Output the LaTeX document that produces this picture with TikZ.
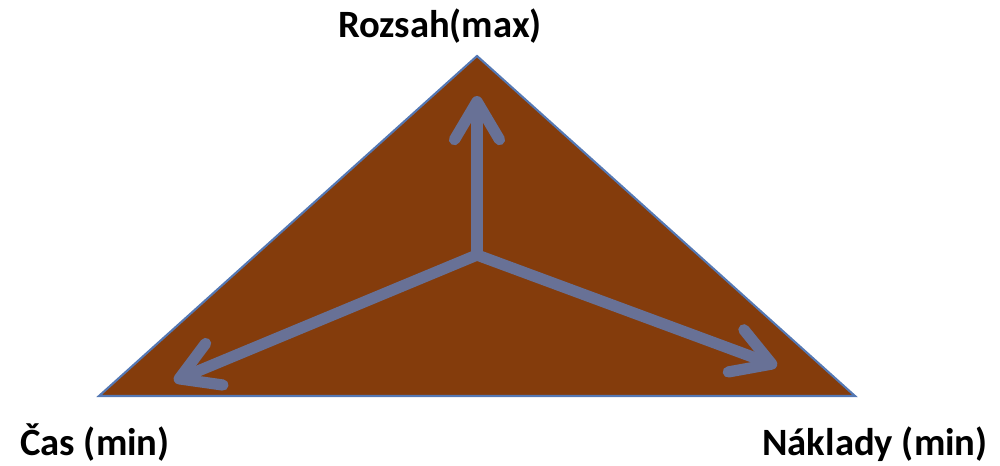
\documentclass[tikz,border=0pt]{standalone}
\usepackage{fontspec}
\setmainfont{Carlito}
\usetikzlibrary{arrows.meta}
\definecolor{triBrown}{RGB}{132,60,12}
\definecolor{triEdge}{RGB}{84,120,180}
\definecolor{arrowGray}{RGB}{104,113,150}
\begin{document}
\begin{tikzpicture}[x=0.02cm, y=-0.02cm,
    goal/.style={anchor=base, font=\fontsize{22}{26}\selectfont\bfseries},
    spoke/.style={arrowGray, line width=6.4pt, line cap=round,
      -{Straight Barb[round, length=0.76cm, width=0.9cm]}}]
      \useasboundingbox (0,0) rectangle (1000,466);

      % Corners of the triangle
      \coordinate (top) at (477,56);
      \coordinate (left) at (99,396);
      \coordinate (right) at (855,396);
      \filldraw[fill=triBrown, draw=triEdge, line width=1.2pt, line join=miter] (top) -- (left) -- (right) -- cycle;

      % Hub and arrow tips
      \coordinate (hub) at (477,255);
      \coordinate (upTip) at (477,96);
      \coordinate (leftTip) at (174,381);
      \coordinate (rightTip) at (777,366);
      \draw[spoke] (hub) -- (upTip);
      \draw[spoke] (hub) -- (leftTip);
      \draw[spoke] (hub) -- (rightTip);

      % Labels
      \node[goal] (scope) at (440,38) {Rozsah(max)};
      \node[goal] (time) at (95,455) {Čas (min)};
      \node[goal] (cost) at (875,455) {Náklady (min)};
    \end{tikzpicture}
\end{document}
